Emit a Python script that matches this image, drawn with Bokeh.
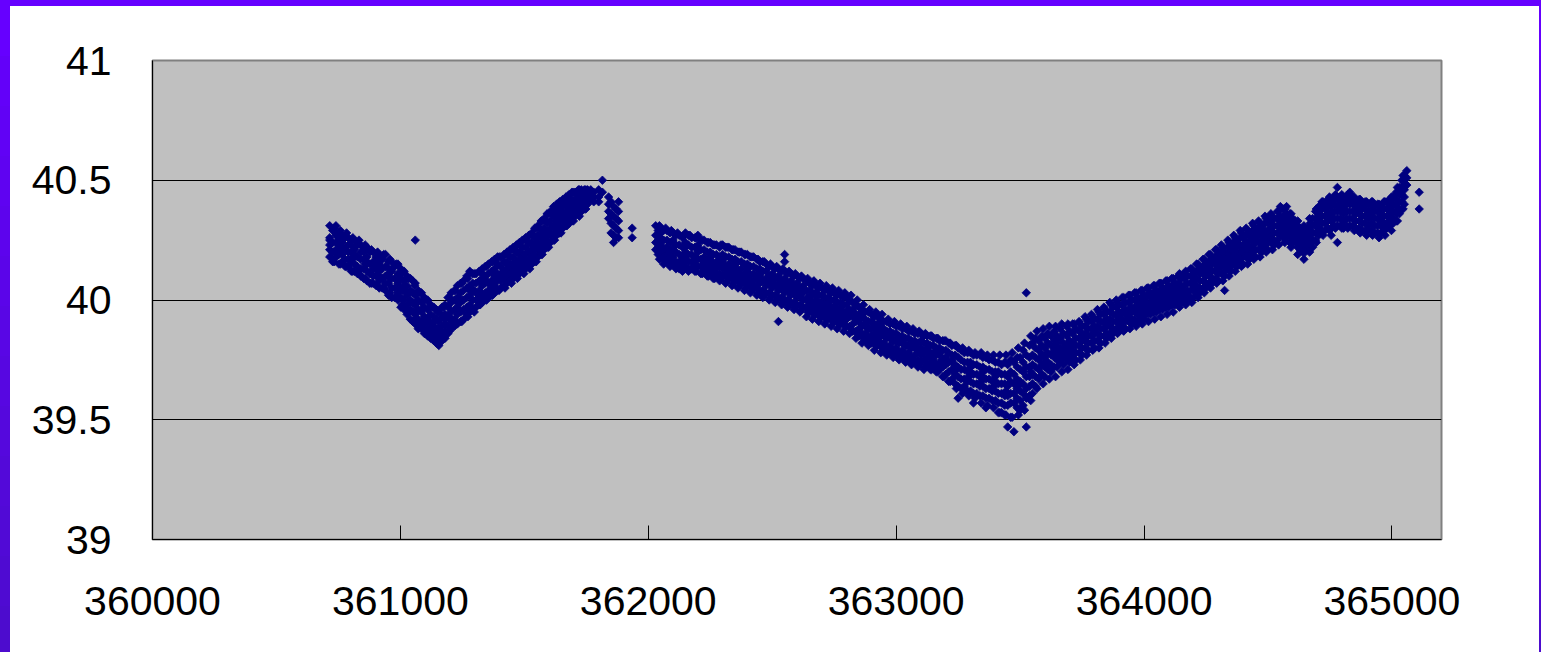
import math
from bokeh.plotting import figure
from bokeh.models import FixedTicker, Range1d
from bokeh.embed import file_html
from bokeh.resources import INLINE

# ---------------- data ----------------
x_ticks = [360000, 361000, 362000, 363000, 364000, 365000]
x_tick_labels = ["360000", "361000", "362000", "363000", "364000", "365000"]
y_ticks = [39, 39.5, 40, 40.5, 41]
y_tick_labels = ["39", "39.5", "40", "40.5", "41"]
grid_levels = [39.5, 40, 40.5]

# read-off points: (x, y values in hundredths above Y_BASE)
Y_BASE = 39.0
first_run = [
    (360715, "131 126 123 121 118 125"), (360740, "131 127 124 121 118"),
    (360765, "127 124 122 119 116 125"), (360790, "126 123 120 117 114"),
    (360815, "125 121 118 115 112 119"), (360840, "123 120 117 113 110"),
    (360865, "122 118 115 112 108 116"), (360890, "120 116 113 110 107"),
    (360915, "118 115 112 108 105 110"), (360940, "119 114 110 107 104"),
    (360965, "116 112 109 105 101 113"), (360990, "115 111 107 103 100"),
    (361015, "112 108 104 100 96 106"), (361040, "109 104 100 96 92"),
    (361060, "125 107 102 98 94 90"), (361085, "103 99 95 91 88 96"),
    (361110, "100 96 92 88 85"), (361135, "97 93 89 86 83 91"),
    (361155, "95 91 87 84 81"), (361180, "98 94 90 87 84 92"),
    (361205, "103 99 95 91 88"), (361230, "106 101 97 94 90 99"),
    (361255, "108 104 100 96 92"), (361280, "112 106 102 98 95 104"),
    (361305, "111 107 103 100 97"), (361330, "113 109 106 102 99 111"),
    (361355, "115 111 107 104 101"), (361380, "117 113 110 106 103 108"),
    (361405, "118 114 111 108 105"), (361430, "120 116 113 110 107 115"),
    (361455, "122 118 115 112 109"), (361480, "124 120 117 114 111 119"),
    (361505, "126 122 119 116 113"), (361530, "128 124 121 118 115 123"),
    (361555, "131 127 124 121 118"), (361580, "134 130 127 124 121 128"),
    (361605, "137 133 130 127 124"), (361630, "140 136 133 130 127 134"),
    (361655, "142 139 136 133 130"), (361680, "144 141 138 135 132 139"),
    (361705, "145 142 140 137 135"), (361730, "146 144 142 139 137 141"),
    (361755, "146 144 142 140"), (361780, "145 143 141"),
    (361800, "146 143 141"), (361815, "150 145"),
    (361840, "143 140 137 134"), (361860, "139 135 131 127 124"),
    (361880, "141 137 133 129 126"), (361935, "130 126"),
]

first_fill = [
    (360727, "129 124 120 116"), (360752, "128 123 119 115 126"),
    (360777, "126 121 117 114"), (360802, "125 120 116 112 123"),
    (360827, "123 118 114 111"), (360852, "122 117 113 109 120"),
    (360877, "120 115 111 107"), (360902, "118 114 110 106 116"),
    (360927, "117 113 109 105"), (360952, "116 111 107 102 113"),
    (360977, "114 109 105 101"), (361002, "113 109 105 101 97 111"),
    (361027, "110 106 102 98 94"), (361050, "108 103 99 95 91"),
    (361072, "104 100 96 92 88"), (361097, "101 97 93 90 86"),
    (361122, "98 94 90 87 84"), (361145, "96 92 88 85 82"),
    (361168, "97 93 89 86 83"), (361192, "101 97 93 89 86"),
    (361218, "104 100 96 92 89"), (361243, "107 103 99 95 91"),
    (361268, "110 105 101 97 94"), (361292, "111 107 104 100 96"),
    (361318, "112 108 104 101 98"), (361342, "114 110 107 103 100"),
    (361368, "116 112 108 105 102"), (361392, "118 115 111 108 104"),
    (361418, "119 116 112 109 106"), (361442, "121 118 114 111 108"),
    (361468, "123 120 116 113 110"), (361492, "125 122 118 115 112"),
    (361518, "127 124 120 117 114"), (361542, "130 126 123 119 116"),
    (361568, "133 129 126 122 119"), (361592, "136 132 128 125 122"),
    (361618, "139 135 131 128 125"), (361642, "141 138 134 131 128"),
    (361668, "143 140 137 134 131"), (361692, "145 142 139 136 133"),
    (361718, "146 143 140 138 136"), (361742, "146 143 141 138"),
    (361768, "146 144 142"), (361850, "141 136 132 128"),
    (361870, "138 134 130 126"),
]

first_edge = [
    (360733, "130 116"), (360758, "129 115 121"), (360783, "128 114"),
    (360808, "126 112 118"), (360833, "125 111"), (360858, "123 109 115"),
    (360883, "121 107"), (360908, "120 106 112"), (360933, "119 105"),
    (360958, "117 103 109"), (360983, "115 101"), (361008, "112 98 104"),
    (361033, "109 95"), (361058, "106 92 98"), (361080, "103 89"),
    (361103, "100 86 92"), (361128, "97 84"), (361150, "95 83 88"),
    (361175, "97 84"), (361198, "101 87 93"), (361222, "104 90"),
    (361248, "107 91 100"), (361272, "109 93"), (361298, "111 95 104"),
    (361322, "112 98"), (361348, "114 100 108"), (361372, "116 102"),
    (361398, "118 104 110"), (361422, "119 105"), (361448, "121 107 115"),
    (361472, "123 109"), (361498, "125 111 119"), (361522, "127 113"),
    (361548, "130 116 122"), (361572, "133 119"), (361598, "136 122 128"),
    (361622, "138 125"), (361648, "141 128 134"), (361672, "143 131"),
    (361698, "145 133 138"), (361722, "146 135"), (361748, "146 138 141"),
]

second_run = [
    (362030, "131 127 124 121"), (362050, "130 126 123 120 128"),
    (362075, "129 125 122 119 116"), (362100, "128 124 121 118 115 125"),
    (362125, "127 123 119 116 113"), (362150, "128 124 120 117 114 122"),
    (362175, "126 122 119 116 113"), (362200, "127 123 120 117 114 121"),
    (362225, "125 121 118 115 112"), (362250, "124 120 117 114 111 118"),
    (362275, "123 119 116 113 110"), (362300, "123 119 116 113 110 117"),
    (362325, "122 118 115 112 109"), (362350, "121 117 114 111 108 115"),
    (362375, "120 116 113 110 107"), (362400, "119 115 112 109 106 113"),
    (362425, "118 114 111 108 105"), (362450, "116 113 110 107 104 111"),
    (362475, "115 112 109 106 103"), (362500, "114 111 108 105 102 109"),
    (362525, "113 110 107 104 101 91"), (362550, "119 116 112 109 106 103 100"),
    (362575, "111 108 105 102 99 106"), (362600, "110 107 104 101 98"),
    (362625, "109 106 103 100 97 104"), (362650, "107 104 101 98 95"),
    (362675, "106 103 100 97 94 102"), (362700, "105 102 99 96 93"),
    (362725, "104 101 98 95 92 99"), (362750, "103 100 97 94 91"),
    (362775, "102 99 96 93 90 97"), (362800, "101 98 95 92 89"),
    (362825, "99 96 93 90 87 95"), (362850, "97 94 91 88 85"),
    (362875, "95 92 89 86 83 90"), (362900, "94 91 88 85 82"),
    (362925, "93 90 87 84 81 88"), (362950, "91 88 85 82 79"),
    (362975, "90 87 84 81 78 85"), (363000, "89 86 83 80 77"),
    (363025, "88 85 82 79 76 83"), (363050, "87 84 81 78 75"),
    (363075, "86 83 80 77 74 81"), (363100, "86 83 80 77 74"),
    (363125, "85 82 79 76 73 80"), (363150, "84 81 78 75 72"),
    (363175, "83 80 77 74 71 78"), (363200, "83 79 76 73 69"),
    (363225, "81 77 74 71 67 75"), (363250, "80 76 72 68 64 59"),
    (363275, "78 74 71 67 64"), (363300, "78 74 70 66 62 72"),
    (363325, "77 73 69 65 61"), (363350, "76 72 68 64 60 70"),
    (363375, "75 71 67 63 59"), (363400, "74 70 66 62 58 68"),
    (363425, "73 69 65 61 57 53"), (363450, "73 68 64 60 56 47"),
    (363475, "74 69 65 61 57 45"), (363500, "76 71 66 62 58 54"),
    (363525, "103 77 72 68 63 59 47"), (363550, "82 77 73 69 65 61"),
    (363575, "83 79 75 71 67"), (363600, "84 80 76 72 68 74"),
    (363625, "85 81 77 73 70"), (363650, "85 82 78 75 72 80"),
    (363675, "86 82 79 76 73"), (363700, "87 83 80 77 74 81"),
    (363725, "88 84 81 78 75"), (363750, "89 86 83 80 77 84"),
    (363775, "91 88 85 82 79"), (363800, "92 89 86 83 80 88"),
    (363825, "94 91 88 85 82"), (363850, "95 92 89 86 84 90"),
    (363875, "97 94 91 88 86"), (363900, "98 95 92 90 87 94"),
    (363925, "99 96 94 91 88"), (363950, "100 97 95 92 90 96"),
    (363975, "101 99 96 94 91"), (364000, "102 100 97 95 92 99"),
    (364025, "103 101 98 96 94"), (364050, "104 102 99 97 95 101"),
    (364075, "105 103 100 98 96"), (364100, "106 104 101 99 97 103"),
    (364125, "107 105 102 100 98"), (364150, "109 106 103 101 99 105"),
    (364175, "110 107 104 102 100"), (364200, "111 109 106 104 101 108"),
    (364225, "113 111 108 105 103"), (364250, "115 113 110 107 105 112"),
    (364275, "117 115 112 109 107"), (364300, "119 116 113 111 108 115"),
    (364325, "120 118 115 112 110 104"), (364350, "122 120 117 114 112 118"),
    (364375, "124 122 119 116 114"), (364400, "126 123 120 118 115 122"),
    (364425, "128 125 122 119 117"), (364450, "129 127 124 121 118 125"),
    (364475, "131 128 125 122 120"), (364500, "132 129 126 124 121 127"),
    (364525, "134 131 128 125 123"), (364550, "139 135 133 130 127 131"),
    (364575, "139 136 134 131 128 126"), (364600, "134 132 129 126 124 130"),
    (364620, "131 128 125 122 127"), (364640, "128 125 122 120"),
    (364660, "130 127 124 121 126"), (364680, "134 131 128 125 122"),
    (364705, "139 136 133 130 127 134"), (364730, "140 138 135 132 129"),
    (364755, "141 139 136 133 130 137 127"), (364780, "147 142 139 137 134 131 124"),
    (364805, "141 139 136 133 130 138"), (364830, "145 142 140 137 134 131"),
    (364855, "141 139 136 133 130 137"), (364880, "140 138 135 132 129"),
    (364905, "140 137 134 131 129 136"), (364930, "139 137 134 131 128"),
    (364955, "139 136 134 131 128 133"), (364980, "141 138 135 132 130"),
    (365005, "143 140 137 134 132"), (365030, "147 144 141 138 136"),
    (365050, "152 149 146 143 140"), (365060, "154 151 148"),
    (365110, "145 138"),
]

second_fill = [
    (362040, "129 125 122 119"), (362062, "129 125 121 118 115"),
    (362088, "128 124 120 117 114"), (362112, "127 123 120 116 113"),
    (362138, "126 122 118 115 112"), (362162, "127 123 119 116 112"),
    (362188, "126 122 118 115 112"), (362212, "125 121 117 114 111"),
    (362238, "124 120 116 113 110"), (362262, "123 119 115 112 109"),
    (362288, "122 118 115 111 108"), (362312, "122 118 114 111 107"),
    (362338, "121 117 113 110 106"), (362362, "120 116 112 109 105"),
    (362388, "119 115 111 108 104"), (362412, "118 114 110 107 103"),
    (362438, "117 113 109 106 102"), (362462, "116 112 108 104 101"),
    (362488, "114 110 107 103 100"), (362512, "113 109 106 102 99"),
    (362538, "112 108 105 101 98"), (362562, "111 107 104 100 97"),
    (362588, "110 106 103 99 96"), (362612, "109 105 102 98 95"),
    (362638, "108 104 100 97 93"), (362662, "106 103 99 96 92"),
    (362688, "105 102 98 95 91"), (362712, "104 101 97 94 90"),
    (362738, "103 100 96 93 89"), (362762, "102 99 95 92 88"),
    (362788, "101 98 94 91 87"), (362812, "100 96 93 89 86"),
    (362838, "98 94 91 87 84"), (362862, "96 93 89 86 82"),
    (362888, "95 91 88 84 81"), (362912, "93 90 86 83 79"),
    (362938, "92 89 85 82 78"), (362962, "91 87 84 80 77"),
    (362988, "90 86 83 79 76"), (363012, "89 85 82 78 75"),
    (363038, "88 84 81 77 74"), (363062, "87 83 80 76 73"),
    (363088, "86 82 79 75 72"), (363112, "85 82 78 75 71"),
    (363138, "85 81 78 74 71"), (363162, "84 80 77 73 70"),
    (363188, "83 79 75 72 68"), (363212, "82 78 74 70 66"),
    (363238, "81 77 73 69 65"), (363262, "79 75 71 67 63"),
    (363288, "78 74 70 66 62"), (363312, "77 73 69 65 61 57"),
    (363338, "77 72 68 64 60"), (363362, "76 71 67 63 59 55"),
    (363388, "75 70 66 62 58"), (363412, "74 70 65 61 57 53"),
    (363438, "74 69 65 60 56 52"), (363462, "75 70 66 61 57 51"),
    (363488, "76 72 67 63 59 55"), (363512, "79 74 70 65 61 56"),
    (363538, "81 76 72 68 64 60"), (363562, "84 80 76 72 68 64"),
    (363588, "85 81 77 73 69"), (363612, "86 82 78 74 71"),
    (363638, "87 83 79 76 72"), (363662, "88 84 80 77 74"),
    (363688, "89 85 81 78 75"), (363712, "90 86 82 79 76"),
    (363738, "91 87 84 81 78"), (363762, "93 89 86 83 80"),
    (363788, "94 91 88 85 82"), (363812, "96 92 89 86 83"),
    (363838, "97 94 91 88 85"), (363862, "99 95 92 89 86"),
    (363888, "100 97 94 91 88"), (363912, "101 98 95 92 89"),
    (363938, "102 99 96 93 91"), (363962, "103 100 97 95 92"),
    (363988, "104 101 98 96 93"), (364012, "105 102 99 97 94"),
    (364038, "106 103 100 98 95"), (364062, "107 104 101 99 96"),
    (364088, "108 105 102 100 97"), (364112, "109 106 103 101 98"),
    (364138, "110 107 104 102 99"), (364162, "111 109 106 103 100"),
    (364188, "113 110 107 104 101"), (364212, "115 112 109 106 103"),
    (364238, "117 114 111 108 105"), (364262, "119 116 113 110 107"),
    (364288, "121 118 115 112 109"), (364312, "123 120 117 114 111"),
    (364338, "125 122 119 116 113"), (364362, "127 124 121 118 115"),
    (364388, "129 126 123 120 117"), (364412, "130 127 124 121 118"),
    (364438, "132 129 126 123 120"), (364462, "133 130 127 124 121"),
    (364488, "135 132 129 126 123"), (364512, "136 133 130 127 124"),
    (364538, "137 134 131 128 125"), (364562, "138 135 132 129 126"),
    (364588, "136 133 130 127 124"), (364610, "133 130 127 124"),
    (364630, "130 127 124 121"), (364650, "129 126 123 120"),
    (364670, "132 129 126 123"), (364692, "137 134 131 128 125"),
    (364718, "141 138 135 132 129"), (364742, "142 139 136 133 130"),
    (364768, "143 140 137 134 131"), (364792, "143 140 137 134 131"),
    (364818, "143 140 137 134 131"), (364842, "143 140 137 134 131"),
    (364868, "142 139 136 133 130"), (364892, "141 138 135 132 129"),
    (364918, "141 138 135 132 129"), (364942, "140 137 134 131 128"),
    (364968, "141 138 135 132 129"), (364992, "142 139 136 133 131"),
    (365018, "145 142 139 136 133"), (365040, "150 147 144 141 138"),
]

second_edge = [
    (362045, "131 117"), (362070, "130 116"), (362093, "129 115 121"),
    (362118, "128 114"), (362143, "127 113 119"), (362168, "127 113"),
    (362193, "126 112 118"), (362218, "125 111"), (362243, "124 110 116"),
    (362268, "123 109"), (362293, "123 109 115"), (362318, "122 108"),
    (362343, "121 107 113"), (362368, "120 106"), (362393, "119 105 111"),
    (362418, "118 104"), (362443, "117 103 109"), (362468, "116 102"),
    (362493, "115 101 107"), (362518, "114 100"), (362543, "113 99 105"),
    (362568, "112 98"), (362593, "111 97 103"), (362618, "110 96"),
    (362643, "109 95 101"), (362668, "108 94"), (362693, "107 93 99"),
    (362718, "106 92"), (362743, "105 91 97"), (362768, "104 90"),
    (362793, "103 89 95"), (362818, "102 88"), (362843, "100 86 92"),
    (362868, "98 84"), (362893, "96 82 88"), (362918, "95 81"),
    (362943, "94 80 86"), (362968, "92 78"), (362993, "91 77 83"),
    (363018, "90 76"), (363043, "89 75 81"), (363068, "88 74"),
    (363093, "87 73 79"), (363118, "86 72"), (363143, "85 71 77"),
    (363168, "84 70"), (363193, "83 68 75"), (363218, "82 66"),
    (363243, "81 63 71"), (363268, "80 61"), (363293, "79 60 68"),
    (363318, "78 59"), (363343, "78 57 66"), (363368, "77 56"),
    (363393, "77 55 64"), (363418, "77 53"), (363443, "77 52 62"),
    (363468, "78 51"), (363493, "80 52 64"), (363518, "82 54"),
    (363543, "85 58 70"), (363568, "87 63"), (363593, "88 65 77"),
    (363618, "89 67"), (363643, "89 68 79"), (363668, "90 70"),
    (363693, "90 71 81"), (363718, "90 73"), (363743, "90 75 84"),
    (363768, "92 77"), (363793, "93 79 86"), (363818, "95 80"),
    (363843, "96 82 90"), (363868, "98 84"), (363893, "99 86 93"),
    (363918, "101 87"), (363943, "102 88 96"), (363968, "103 89"),
    (363993, "104 90 98"), (364018, "105 91"), (364043, "106 92 100"),
    (364068, "107 93"), (364093, "108 94 102"), (364118, "109 95"),
    (364143, "111 97 103"), (364168, "112 98"), (364193, "113 99 107"),
    (364218, "115 101"), (364243, "117 103 111"), (364268, "119 105"),
    (364293, "121 107 113"), (364318, "122 108"), (364343, "124 110 118"),
    (364368, "126 112"), (364393, "128 114 120"), (364418, "129 115"),
    (364443, "131 117 125"), (364468, "132 118"), (364493, "134 120 126"),
    (364518, "135 121"), (364543, "137 123 131"), (364568, "138 124"),
    (364593, "136 122 130"), (364620, "133 119"), (364645, "131 117"),
    (364668, "134 120"), (364695, "138 124 132"), (364722, "141 127"),
    (364748, "143 129 135"), (364772, "144 130"), (364798, "144 130 138"),
    (364822, "144 130"), (364848, "143 129 137"), (364872, "142 128"),
    (364898, "141 127 135"), (364922, "141 127"), (364948, "140 126 134"),
    (364972, "141 127"), (364998, "143 129 137"), (365022, "147 133"),
    (365045, "152 138 146"),
]

xs, ys = [], []
for run in (first_run, first_fill, first_edge, second_run, second_fill, second_edge):
    for x, vals in run:
        for v in vals.split():
            xs.append(x)
            ys.append(Y_BASE + int(v) / 100.0)

# ---------------- page frame (purple edge drawn with CSS shadows) ----------------
def mix(t):
    a = (0x66, 0x00, 0xFF)
    b = (0x4C, 0x0C, 0xCC)
    return "#%02x%02x%02x" % tuple(round(a[i] + (b[i] - a[i]) * t) for i in range(3))

shadows = []
for dy in range(600, 0, -50):
    c = mix((dy + 30) / 652)
    shadows.append("-10px %dpx 0 0 %s" % (dy, c))
    shadows.append("2px %dpx 0 0 %s" % (dy, c))
shadows.append("-10px -6px 0 0 #6600ff")
shadows.append("2px -6px 0 0 #6600ff")

# ---------------- figure ----------------
p = figure(
    width=1529, height=646,
    x_range=Range1d(360000, 365200), y_range=Range1d(39, 41),
    output_backend="svg", toolbar_location=None,
    min_border_left=142, min_border_right=98, min_border_top=54, min_border_bottom=113,
    background_fill_color="#C0C0C0", border_fill_color="white",
    outline_line_color="#808080", outline_line_width=2,
    styles={
        "margin-left": "10px", "margin-top": "6px",
        "box-shadow": ", ".join(shadows),
    },
)

p.scatter(xs, ys, marker="square", angle=math.pi / 4, size=6,
          fill_color="#000080", line_color="#000080", line_width=0.8)

p.xgrid.visible = False
p.ygrid.ticker = FixedTicker(ticks=grid_levels)
p.ygrid.grid_line_color = "#000000"
p.ygrid.grid_line_width = 1

for ax in (p.xaxis[0], p.yaxis[0]):
    ax.axis_line_color = "#000000"
    ax.axis_line_width = 1
    ax.major_label_text_font = "Liberation Sans"
    ax.major_label_text_font_size = "41px"
    ax.major_label_text_color = "#000000"
    ax.minor_tick_line_color = None
    ax.major_tick_line_color = "#000000"

p.xaxis.ticker = FixedTicker(ticks=x_ticks)
p.xaxis.major_label_overrides = dict(zip(x_ticks, x_tick_labels))
p.xaxis.major_tick_in = 14
p.xaxis.major_tick_out = 0
p.xaxis.major_label_standoff = 47

p.yaxis.ticker = FixedTicker(ticks=y_ticks)
p.yaxis.major_label_overrides = dict(zip(y_ticks, y_tick_labels))
p.yaxis.major_tick_in = 0
p.yaxis.major_tick_out = 0
p.yaxis.major_label_standoff = 41

open("out.html", "w").write(file_html(p, INLINE))
